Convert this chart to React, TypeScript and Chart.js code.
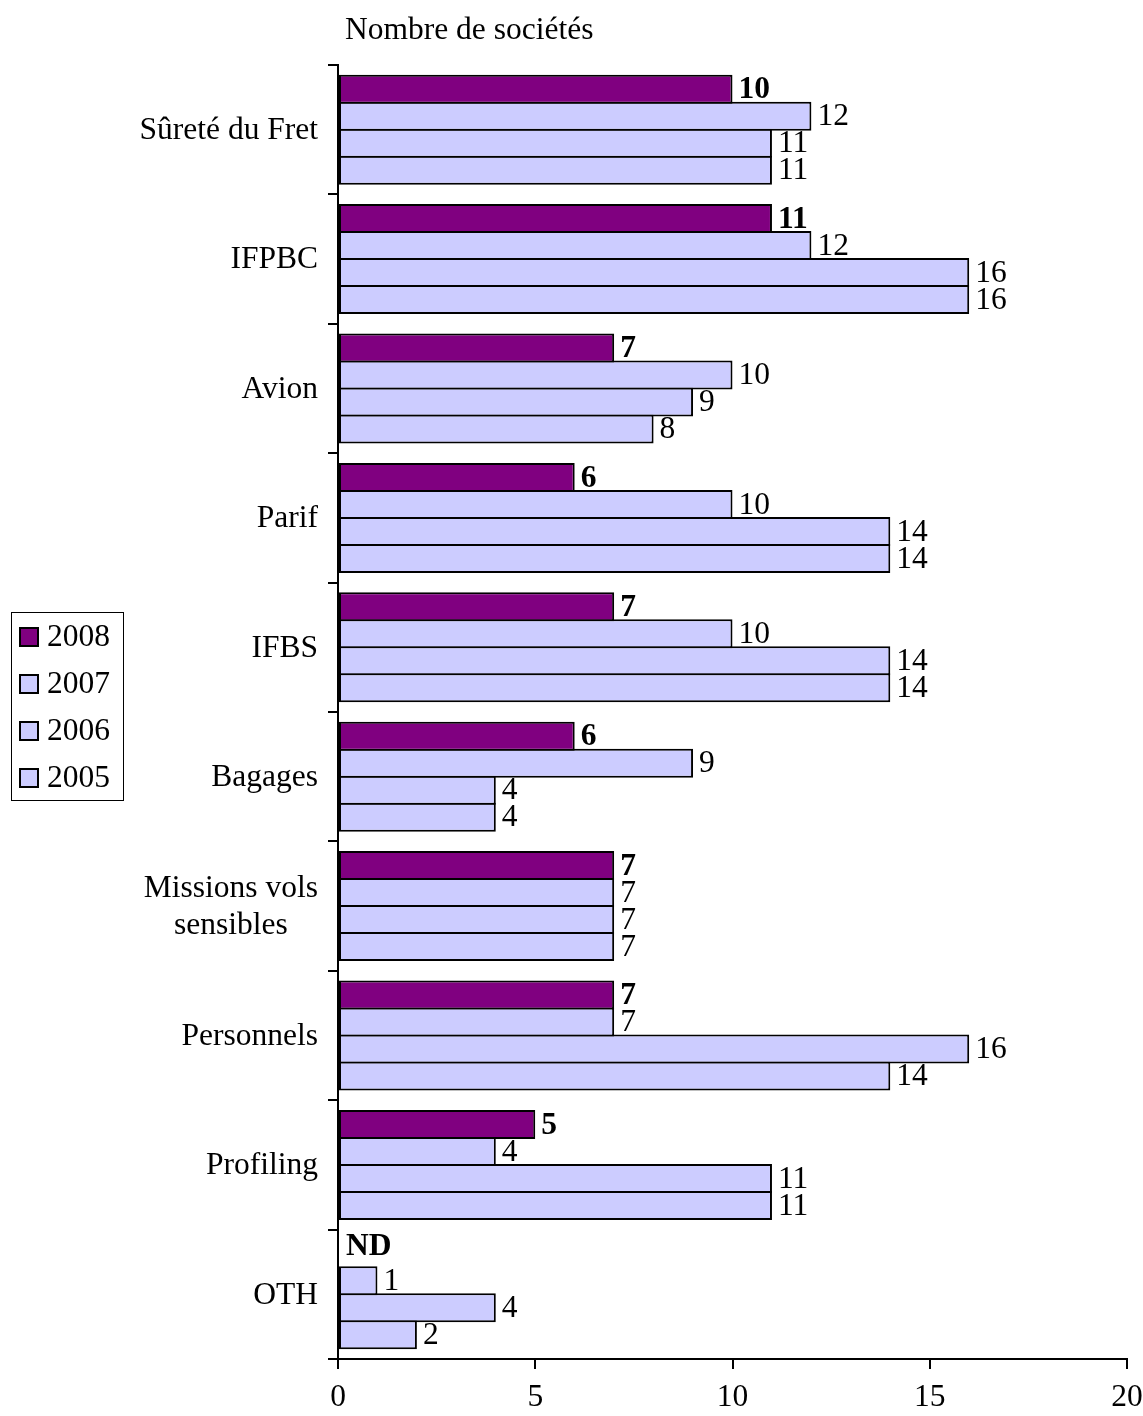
import React, { useEffect, useRef } from "react";
import { Chart, registerables } from "chart.js";

Chart.register(...registerables);

const categories: (string | string[])[] = [
  "Sûreté du Fret",
  "IFPBC",
  "Avion",
  "Parif",
  "IFBS",
  "Bagages",
  ["Missions vols", "sensibles"],
  "Personnels",
  "Profiling",
  "OTH",
];
const seriesLabels = ["2008", "2007", "2006", "2005"];
const values2008: (number | null)[] = [10, 11, 7, 6, 7, 6, 7, 7, 5, null];
const values2007: (number | null)[] = [12, 12, 10, 10, 10, 9, 7, 7, 4, 1];
const values2006: (number | null)[] = [11, 16, 9, 14, 14, 4, 7, 16, 11, 4];
const values2005: (number | null)[] = [11, 16, 8, 14, 14, 4, 7, 14, 11, 2];
const xTicksMax = 20;
const xTickStep = 5;
const titleText = "Nombre de sociétés";
const missingLabel = "ND";

const FONT = "'Liberation Serif', 'Times New Roman', serif";
const FS = 31.5;
const PURPLE = "#800080";
const LAVENDER = "#CCCCFF";

export default function App() {
  const ref = useRef<HTMLCanvasElement>(null);

  useEffect(() => {
    if (!ref.current) return;
    const seriesValues = [values2008, values2007, values2006, values2005];
    const colors = [PURPLE, LAVENDER, LAVENDER, LAVENDER];

    const overlay = {
      id: "overlay",
      afterDraw(chart: any) {
        const ctx = chart.ctx as CanvasRenderingContext2D;
        const xScale = chart.scales.x;
        const yScale = chart.scales.y;
        ctx.save();
        ctx.fillStyle = "#000";

        // title
        ctx.font = `${FS}px ${FONT}`;
        ctx.textAlign = "left";
        ctx.textBaseline = "middle";
        ctx.fillText(titleText, 345, 31);

        // category labels
        ctx.font = `${FS}px ${FONT}`;
        ctx.textAlign = "center";
        categories.forEach((lab, i) => {
          const lines = Array.isArray(lab) ? lab : [lab];
          const maxW = Math.max(...lines.map((l) => ctx.measureText(l).width));
          const cx = 318 - maxW / 2;
          const yc = yScale.getPixelForValue(i) + 1;
          const lh = 37;
          const y0 = yc - ((lines.length - 1) * lh) / 2;
          lines.forEach((l, k) => ctx.fillText(l, cx, y0 + k * lh));
        });

        // value labels
        ctx.textAlign = "left";
        ctx.textBaseline = "middle";
        chart.data.datasets.forEach((ds: any, i: number) => {
          const meta = chart.getDatasetMeta(i);
          ctx.font = `${i === 0 ? "bold " : ""}${FS}px ${FONT}`;
          meta.data.forEach((bar: any, j: number) => {
            const v = ds.data[j];
            if (v == null) {
              ctx.fillText(missingLabel, xScale.getPixelForValue(0) + 8, bar.y - 7);
            } else {
              ctx.fillText(String(v), bar.x + 6, bar.y + 1);
            }
          });
        });

        // legend
        ctx.lineWidth = 1;
        ctx.strokeStyle = "#000";
        ctx.strokeRect(11.5, 612.5, 112, 188);
        ctx.font = `${FS}px ${FONT}`;
        const rowY = [637, 684, 731, 778];
        chart.data.datasets.forEach((ds: any, i: number) => {
          const y = rowY[i];
          ctx.fillStyle = ds.backgroundColor;
          ctx.fillRect(20, y - 9, 18, 18);
          ctx.lineWidth = 2;
          ctx.strokeRect(20, y - 9, 18, 18);
          ctx.fillStyle = "#000";
          ctx.textAlign = "left";
          ctx.fillText(ds.label, 47, y + 1);
        });
        ctx.restore();
      },
    };

    const chart = new Chart(ref.current, {
      type: "bar",
      data: {
        labels: categories as any,
        datasets: seriesLabels.map((label, i) => ({
          label,
          data: seriesValues[i],
          backgroundColor: colors[i],
          borderColor: "#000",
          borderWidth: 2,
          borderSkipped: false,
          categoryPercentage: 0.835,
          barPercentage: 1.074,
        })),
      },
      options: {
        indexAxis: "y",
        responsive: false,
        animation: false,
        devicePixelRatio: 1,
        layout: { padding: { top: 65, right: 16, left: 0, bottom: 0 } },
        plugins: {
          legend: { display: false },
          title: { display: false },
          tooltip: { enabled: false },
        },
        scales: {
          y: {
            type: "category",
            offset: true,
            grid: {
              offset: true,
              drawOnChartArea: false,
              drawTicks: true,
              tickLength: 10,
              color: "#000",
              lineWidth: 2,
            },
            border: { display: true, color: "#000", width: 2 },
            ticks: { display: false },
            afterFit: (s: any) => {
              s.width = 338;
              s.paddingTop = 0;
              s.paddingBottom = 0;
            },
          },
          x: {
            type: "linear",
            min: 0,
            max: xTicksMax,
            ticks: {
              stepSize: xTickStep,
              color: "#000",
              font: { family: FONT, size: FS },
              padding: 10,
            },
            grid: {
              drawOnChartArea: false,
              tickLength: 10,
              color: "#000",
              lineWidth: 2,
            },
            border: { display: true, color: "#000", width: 2 },
            afterFit: (s: any) => {
              s.height = 57;
              s.paddingLeft = 0;
              s.paddingRight = 0;
            },
          },
        },
      } as any,
      plugins: [overlay],
    });
    return () => chart.destroy();
  }, []);

  return (
    <div style={{ position: "absolute", left: 0, top: 0, width: 1143, height: 1416 }}>
      <canvas ref={ref} width={1143} height={1416} style={{ width: 1143, height: 1416, display: "block" }} />
    </div>
  );
}
